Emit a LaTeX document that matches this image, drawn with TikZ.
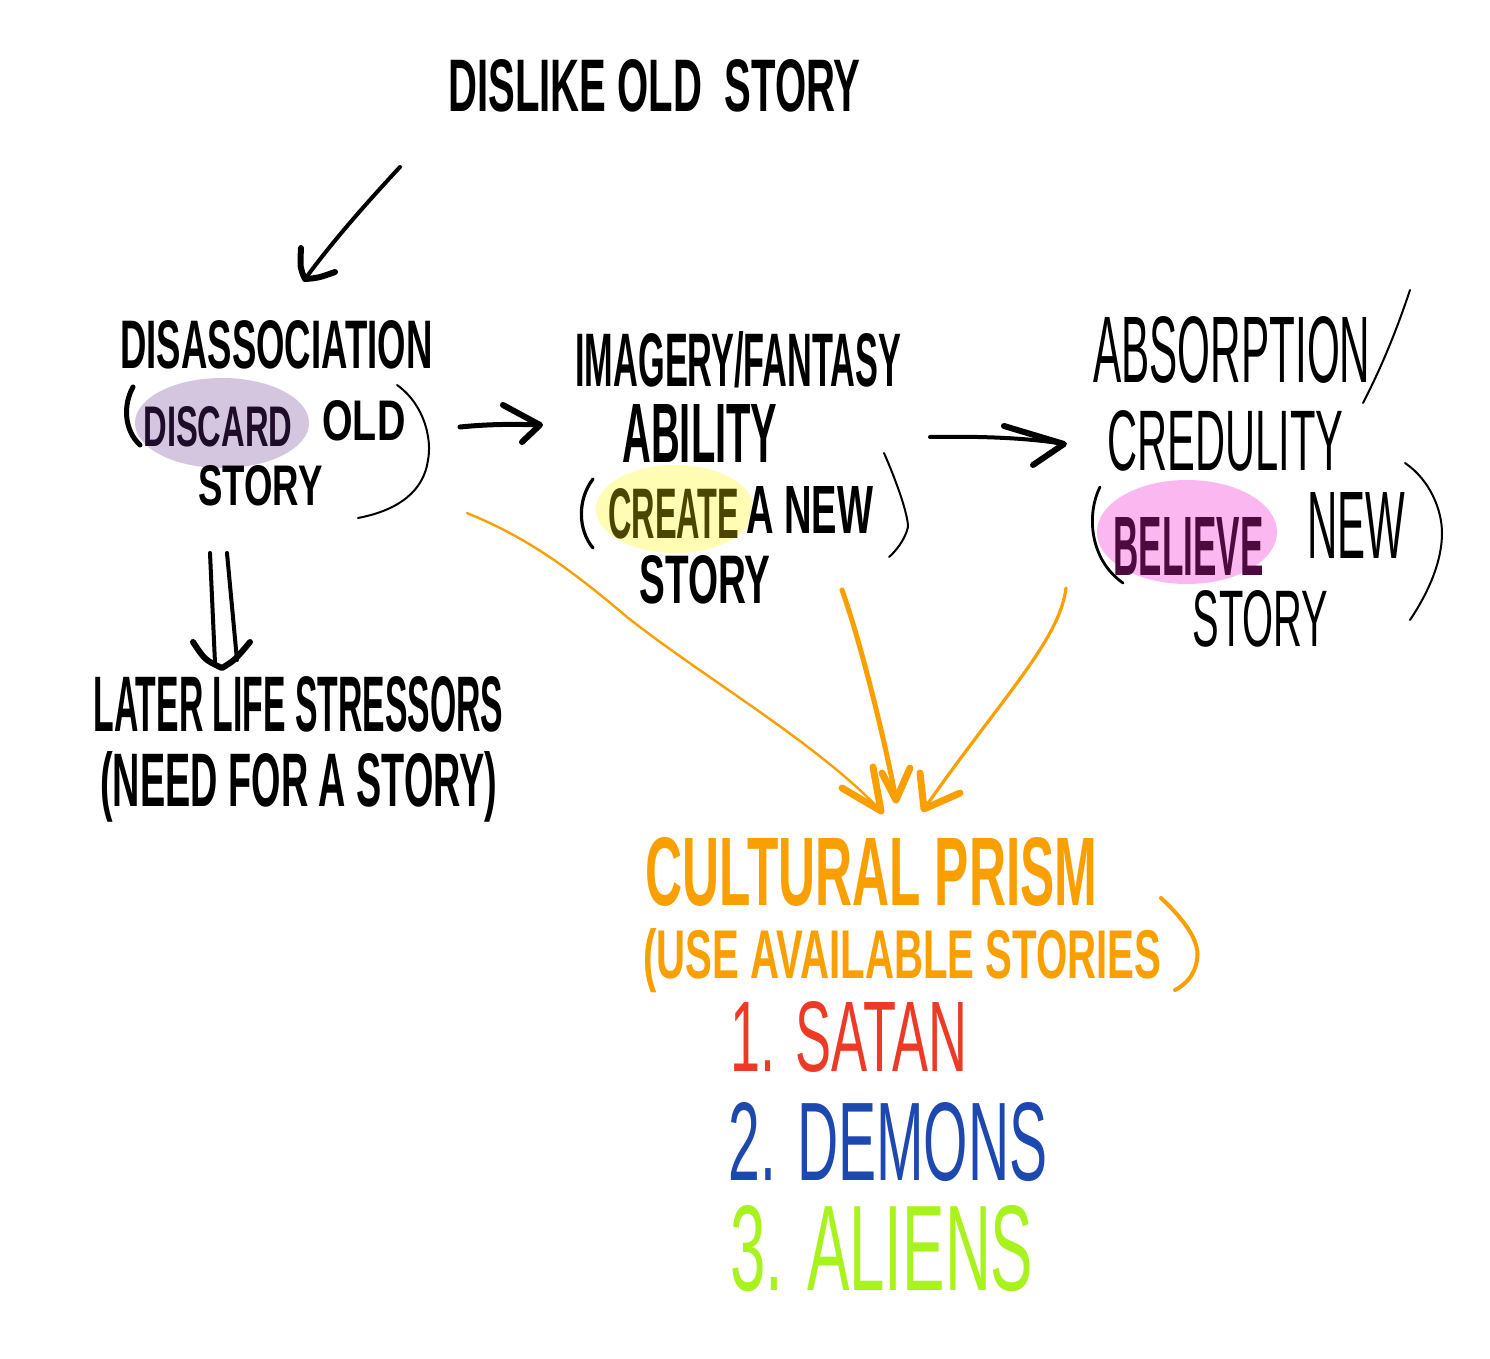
\documentclass[tikz,border=0pt]{standalone}
\usepackage{fontspec}
\setmainfont{Liberation Sans}
\usepackage{graphicx}
\newlength\pxu \setlength\pxu{0.5pt}
\newcommand\hw[3]{\resizebox{#1\pxu}{#2\pxu}{#3}}
\definecolor{lilac}{HTML}{D5C6E0}
\definecolor{lilacink}{HTML}{1E0C2A}
\definecolor{lemon}{HTML}{FFFDB4}
\definecolor{olive}{HTML}{4A4500}
\definecolor{pinkhl}{HTML}{FBB8F0}
\definecolor{plum}{HTML}{4D0A3E}
\definecolor{amber}{HTML}{F9A000}
\definecolor{redink}{HTML}{EC3A26}
\definecolor{blueink}{HTML}{1C48AF}
\definecolor{limeink}{HTML}{A8F21E}
\begin{document}
\begin{tikzpicture}[x=0.5pt,y=-0.5pt,
  txt/.style={inner sep=0pt, anchor=base west, font=\bfseries},
  thin/.style={inner sep=0pt, anchor=base west},
  pen/.style={line width=2pt, line cap=round, line join=round},
  head/.style={line width=3pt, line cap=round, line join=round},
  fine/.style={line width=1pt, line cap=round},
  opens/.style={amber, line cap=round, line join=round}]
\useasboundingbox[fill=white] (0,0) rectangle (1490,1359);

% highlights
\fill[lilac] (222,423) ellipse [x radius=87, y radius=45];
\fill[lemon] (675,509) ellipse [x radius=79, y radius=44];
\fill[pinkhl] (1187,532) ellipse [x radius=90, y radius=52];

% texts
\node[txt] (top) at (448,112) {\hw{412}{52}{DISLIKE OLD\ \ STORY}};

\node[txt] (dis1) at (120,368) {\hw{312}{48}{DISASSOCIATION}};
\node[txt, text=lilacink] (discard) at (143,446) {\hw{149}{40}{DISCARD}};
\node[txt] (disold) at (322,440) {\hw{83}{40}{OLD}};
\node[txt] (disstory) at (198,505) {\hw{124}{40}{STORY}};

\node[txt] (img1) at (575,386) {\hw{326}{55}{IMAGERY/FANTASY}};
\node[txt] (img2) at (622,462) {\hw{155}{58}{ABILITY}};
\node[txt, text=olive] (create) at (608,538) {\hw{131}{50}{CREATE}};
\node[txt] (anew) at (746,533) {\hw{127}{47}{A NEW}};
\node[txt] (imgstory) at (639,603) {\hw{131}{48}{STORY}};

\node[thin] (abs1) at (1093,382) {\hw{277}{66}{ABSORPTION}};
\node[thin] (abs2) at (1107,470) {\hw{236}{60}{CREDULITY}};
\node[txt, text=plum] (believe) at (1113,575) {\hw{150}{58}{BELIEVE}};
\node[thin] (absnew) at (1307,558) {\hw{98}{66}{NEW}};
\node[thin] (absstory) at (1192,646) {\hw{136}{56}{STORY}};

\node[txt] (later1) at (93,731) {\hw{410}{55}{LATER LIFE STRESSORS}};
\node[txt] (later2) at (100,806) {\hw{397}{55}{(NEED FOR A STORY)}};

\node[txt, text=amber] (prism1) at (645,905) {\hw{452}{68}{CULTURAL PRISM}};
\node[txt, text=amber] (prism2) at (643,978) {\hw{518}{50}{(USE AVAILABLE STORIES}};

\node[thin, text=redink] (satan) at (730,1071) {\hw{237}{70}{1. SATAN}};
\node[thin, text=blueink] (demons) at (728,1180) {\hw{319}{78}{2. DEMONS}};
\node[thin, text=limeink] (aliens) at (730,1290) {\hw{303}{85}{3. ALIENS}};

% brackets and slash
\draw[line width=2.5pt, line cap=round] (133,387) .. controls (123,405) and (124,430) .. (140,445);
\draw[fine] (397,385) .. controls (425,405) and (432,440) .. (428,460) .. controls (424,490) and (400,510) .. (358,518);
\draw[line width=1.6pt, line cap=round] (593,479) .. controls (577,500) and (578,530) .. (593,548);
\draw[fine] (884,453) .. controls (898,485) and (908,515) .. (908,527) .. controls (905,540) and (895,552) .. (889,557);
\draw[fine] (1410,290) .. controls (1395,335) and (1380,370) .. (1363,403);
\draw[line width=1.4pt, line cap=round] (1100,487) .. controls (1086,515) and (1090,560) .. (1123,583);
\draw[fine] (1405,463) .. controls (1430,480) and (1442,510) .. (1442,533) .. controls (1442,560) and (1430,590) .. (1410,620);
\draw[opens, line width=2pt] (1161,898) .. controls (1190,925) and (1200,945) .. (1197,960) .. controls (1195,975) and (1185,985) .. (1175,990);

% connector end points
\coordinate (t1) at (400,167); \coordinate (t2) at (305,279);
\coordinate (h1) at (460,427); \coordinate (h2) at (540,425);
\coordinate (k1) at (930,437); \coordinate (k2) at (1064,444);
\coordinate (d1) at (210,553); \coordinate (d2) at (215,663);
\coordinate (e1) at (227,553); \coordinate (e2) at (237,660);
\coordinate (o1) at (467,513); \coordinate (o2) at (881,811);
\coordinate (m1) at (842,590); \coordinate (m2) at (896,800);
\coordinate (r1) at (1066,588); \coordinate (r2) at (924,809);

% black arrows
\draw[pen] (t1) .. controls (360,210) and (330,245) .. (t2);
\draw[head] (301,248) .. controls (300,268) .. (t2) .. controls (318,278) .. (335,272);

\draw[pen, line width=2.5pt] (h1) .. controls (490,424) and (515,424) .. (h2);
\draw[head] (503,405) -- (h2) -- (522,442);

\draw[pen] (k1) .. controls (980,436) and (1030,438) .. (k2);
\draw[head] (1004,426) -- (k2) -- (1033,465);

\draw[pen] (d1) -- (d2);
\draw[pen] (e1) -- (e2);
\draw[head] (193,642) .. controls (205,660) .. (222,668) .. controls (235,660) .. (250,642);

% orange arrows
\draw[opens, line width=1.2pt] (o1) .. controls (520,535) and (560,560) .. (627,617) .. controls (700,675) and (820,745) .. (o2);
\draw[opens, line width=3.5pt] (842,788) -- (o2) -- (873,767);

\draw[opens, line width=2.5pt] (m1) .. controls (860,640) and (885,740) .. (m2);
\draw[opens, line width=3.5pt] (882,773) -- (m2) -- (910,768);

\draw[opens, line width=1.6pt] (r1) .. controls (1060,640) and (1000,700) .. (r2);
\draw[opens, line width=3.5pt] (920,773) -- (r2) -- (960,793);
\end{tikzpicture}
\end{document}
